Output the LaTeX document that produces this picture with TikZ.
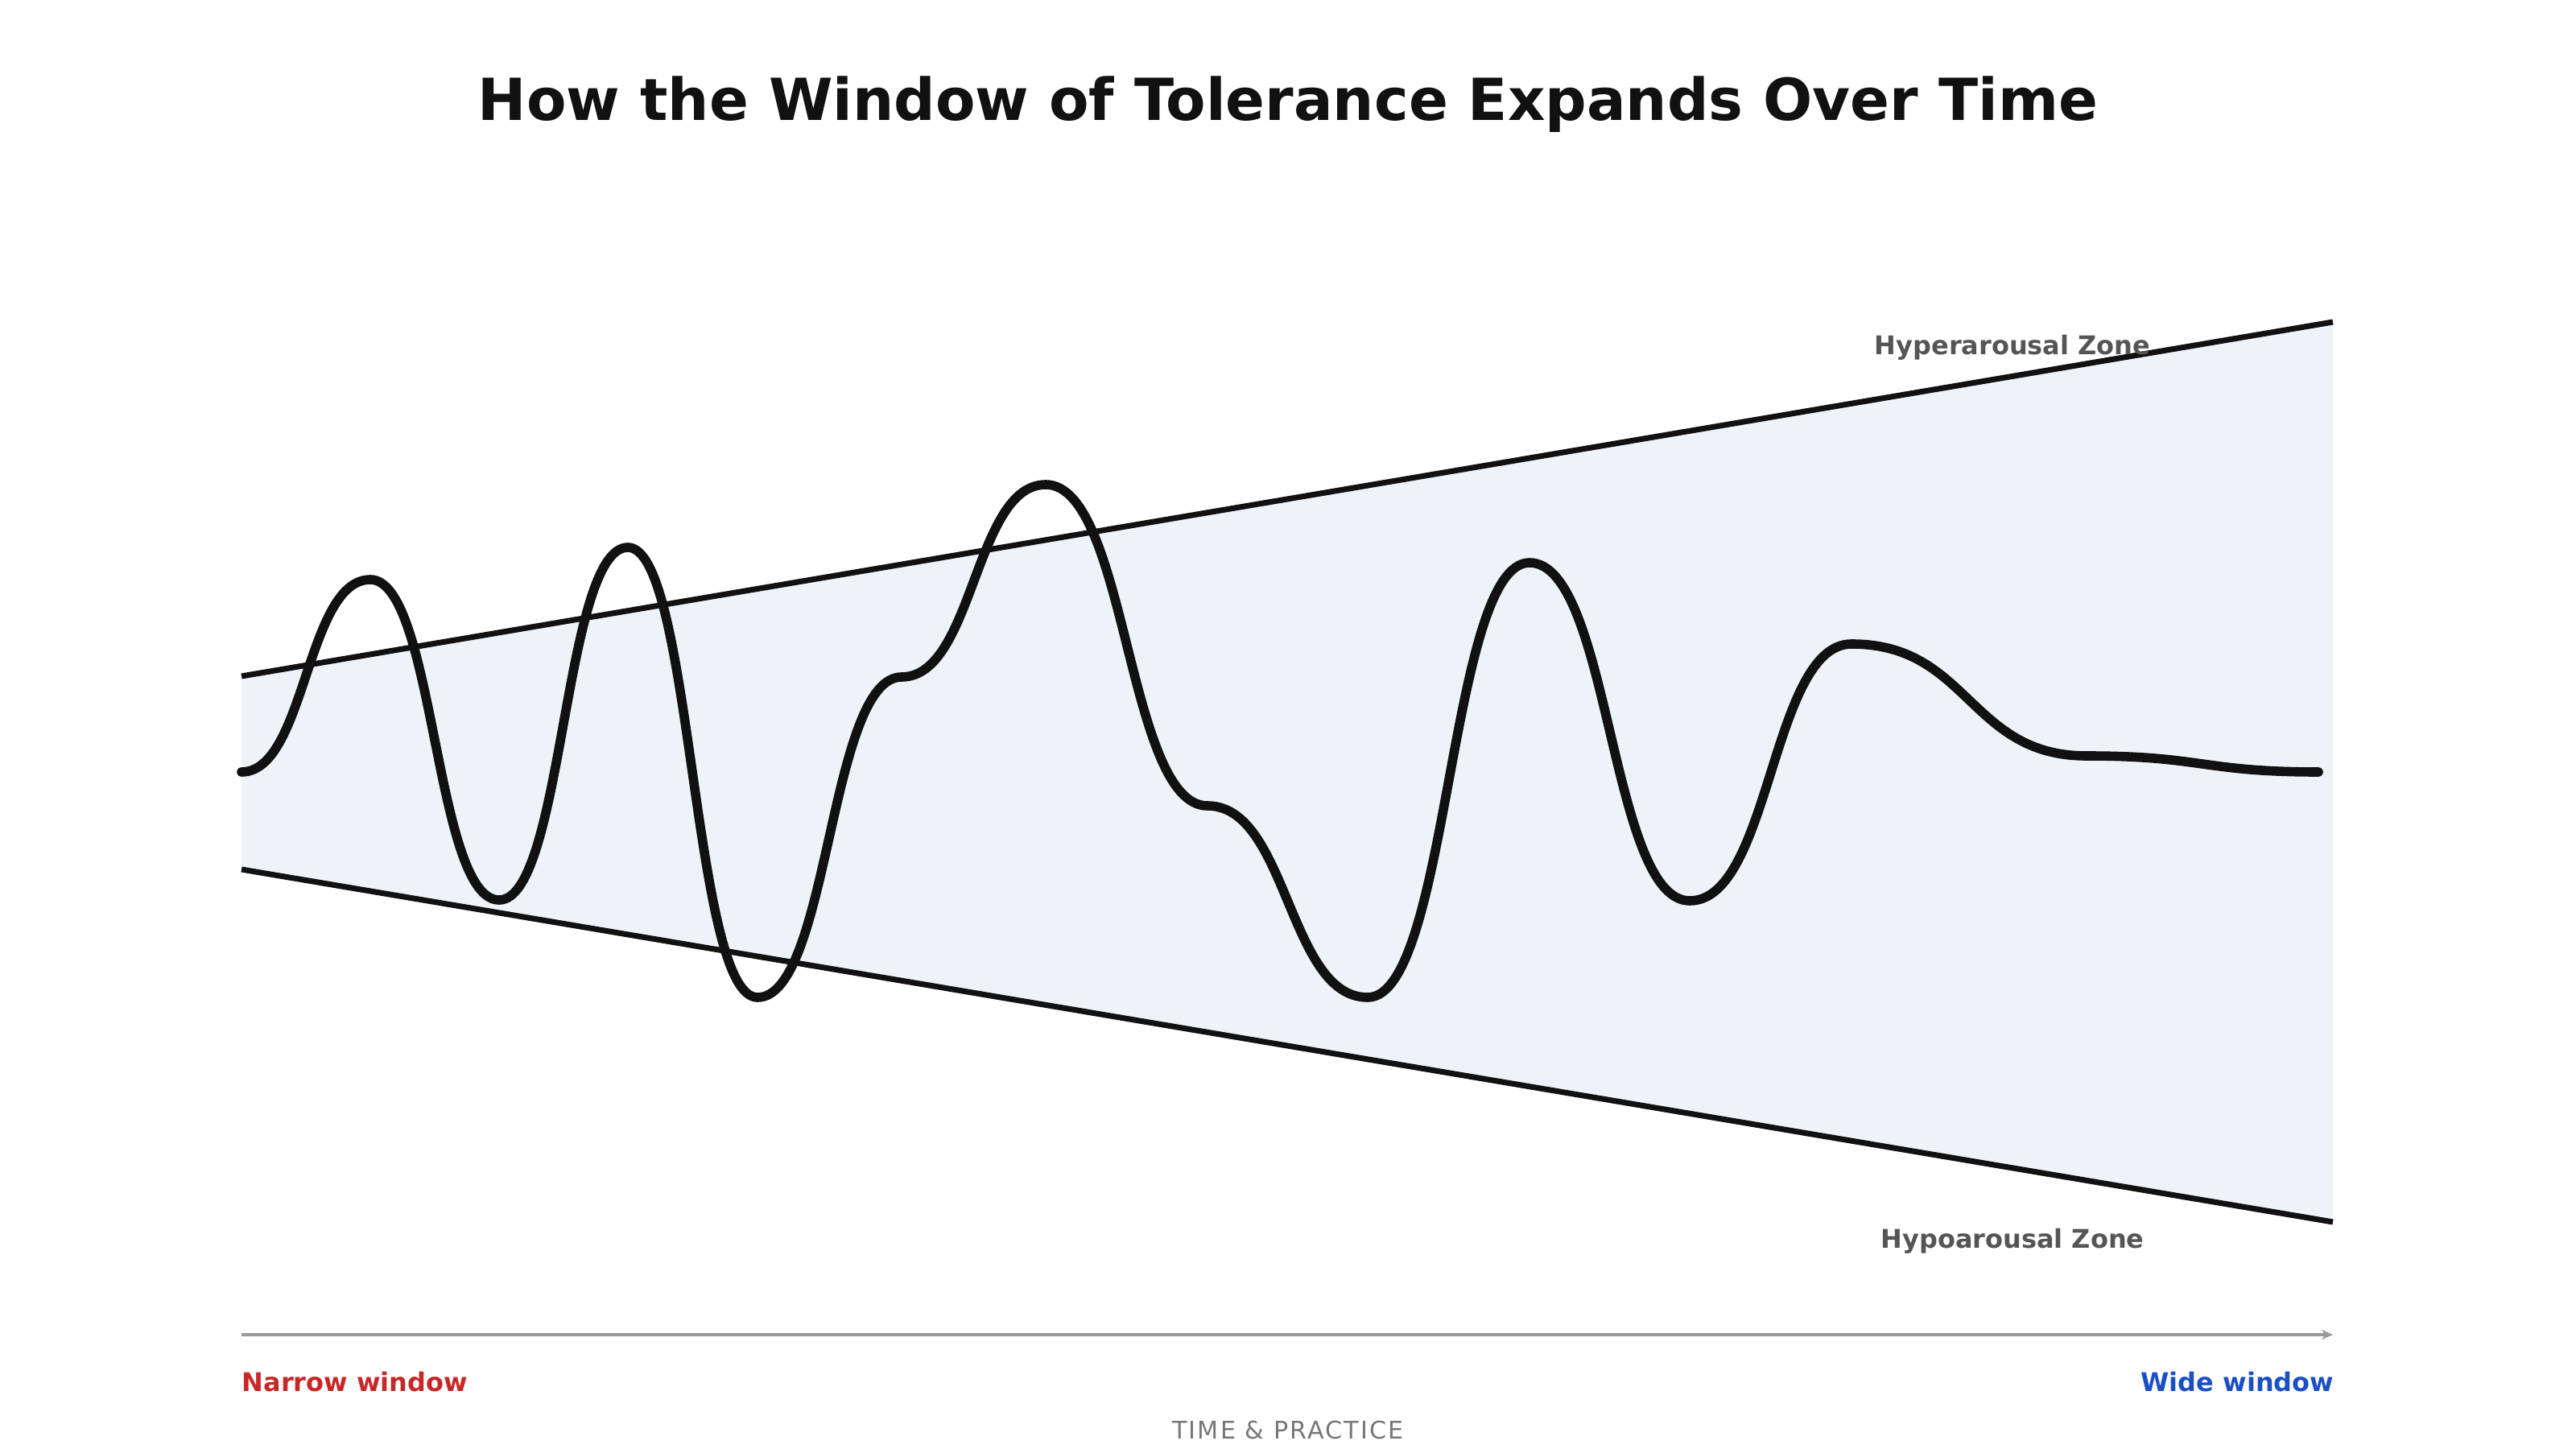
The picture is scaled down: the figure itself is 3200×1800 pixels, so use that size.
\documentclass[tikz,border=0pt]{standalone}
\usepackage{fontspec}
\setmainfont{DejaVu Sans}
\usetikzlibrary{arrows.meta}
\definecolor{inkc}{HTML}{111111}
\definecolor{zonec}{HTML}{555555}
\definecolor{fillc}{HTML}{EEF3FA}
\definecolor{axisc}{HTML}{999999}
\definecolor{redc}{HTML}{C62828}
\definecolor{bluec}{HTML}{1B4FC4}
\definecolor{timec}{HTML}{777777}
\tikzset{
  boundary/.style={draw=inkc, line width=2pt, line cap=butt},
  wave/.style={draw=inkc, line width=3.3pt, line cap=round, line join=round},
  zonelabel/.style={text=zonec, font=\fontsize{9.1pt}{11pt}\selectfont\bfseries, anchor=base, inner sep=0pt},
  endlabel/.style={font=\fontsize{9.1pt}{11pt}\selectfont\bfseries, anchor=base, inner sep=0pt},
}
\begin{document}
\begin{tikzpicture}[x=0.1mm,y=-0.1mm]
\useasboundingbox (0,0) rectangle (3200,1800);
% window fill
\fill[fillc] (300,840) -- (2898,400) -- (2898,1518) -- (300,1080) -- cycle;
% boundaries
\coordinate (ul) at (300,840); \coordinate (ur) at (2898,400);
\coordinate (ll) at (300,1080); \coordinate (lr) at (2898,1518);
\draw[boundary] (ul) -- (ur);
\draw[boundary] (ll) -- (lr);
% wave
\draw[wave] (300,959)
  .. controls (380,959) and (380,720) .. (460,720)
  .. controls (540,720) and (540,1118) .. (620,1118)
  .. controls (700,1118) and (700,680) .. (780,680)
  .. controls (860,680) and (860,1239) .. (941,1239)
  .. controls (1030,1239) and (1030,841) .. (1120,841)
  .. controls (1210,841) and (1210,602) .. (1299,602)
  .. controls (1400,602) and (1400,1001) .. (1500,1001)
  .. controls (1600,1001) and (1600,1239) .. (1699,1239)
  .. controls (1800,1239) and (1800,699) .. (1900,699)
  .. controls (2000,699) and (2000,1119) .. (2099,1119)
  .. controls (2200,1119) and (2200,800) .. (2300,800)
  .. controls (2446,800) and (2446,939) .. (2592,939)
  .. controls (2736,939) and (2736,959) .. (2880,959);
% title
\node[anchor=base, inner sep=0pt, text=inkc, font=\fontsize{20.5pt}{24pt}\selectfont\bfseries] (title) at (1600,150) {How the Window of Tolerance Expands Over Time};
% zone labels
\node[zonelabel] (hyper) at (2500,441) {Hyperarousal Zone};
\node[zonelabel] (hypo) at (2500,1550) {Hypoarousal Zone};
% axis
\coordinate (axl) at (300,1658); \coordinate (axr) at (2898,1658);
\draw[draw=axisc, line width=1.2pt, -{Stealth[length=4pt,width=3.5pt]}] (axl) -- (axr);
\node[endlabel, text=redc, anchor=base west] (narrow) at (300,1728) {Narrow window};
\node[endlabel, text=bluec, anchor=base east] (wide) at (2900,1728) {Wide window};
\node[anchor=base, inner sep=0pt, text=timec, font=\fontsize{8.6pt}{10pt}\selectfont\addfontfeatures{LetterSpace=7}] (time) at (1600,1787) {TIME \& PRACTICE};
\end{tikzpicture}
\end{document}
